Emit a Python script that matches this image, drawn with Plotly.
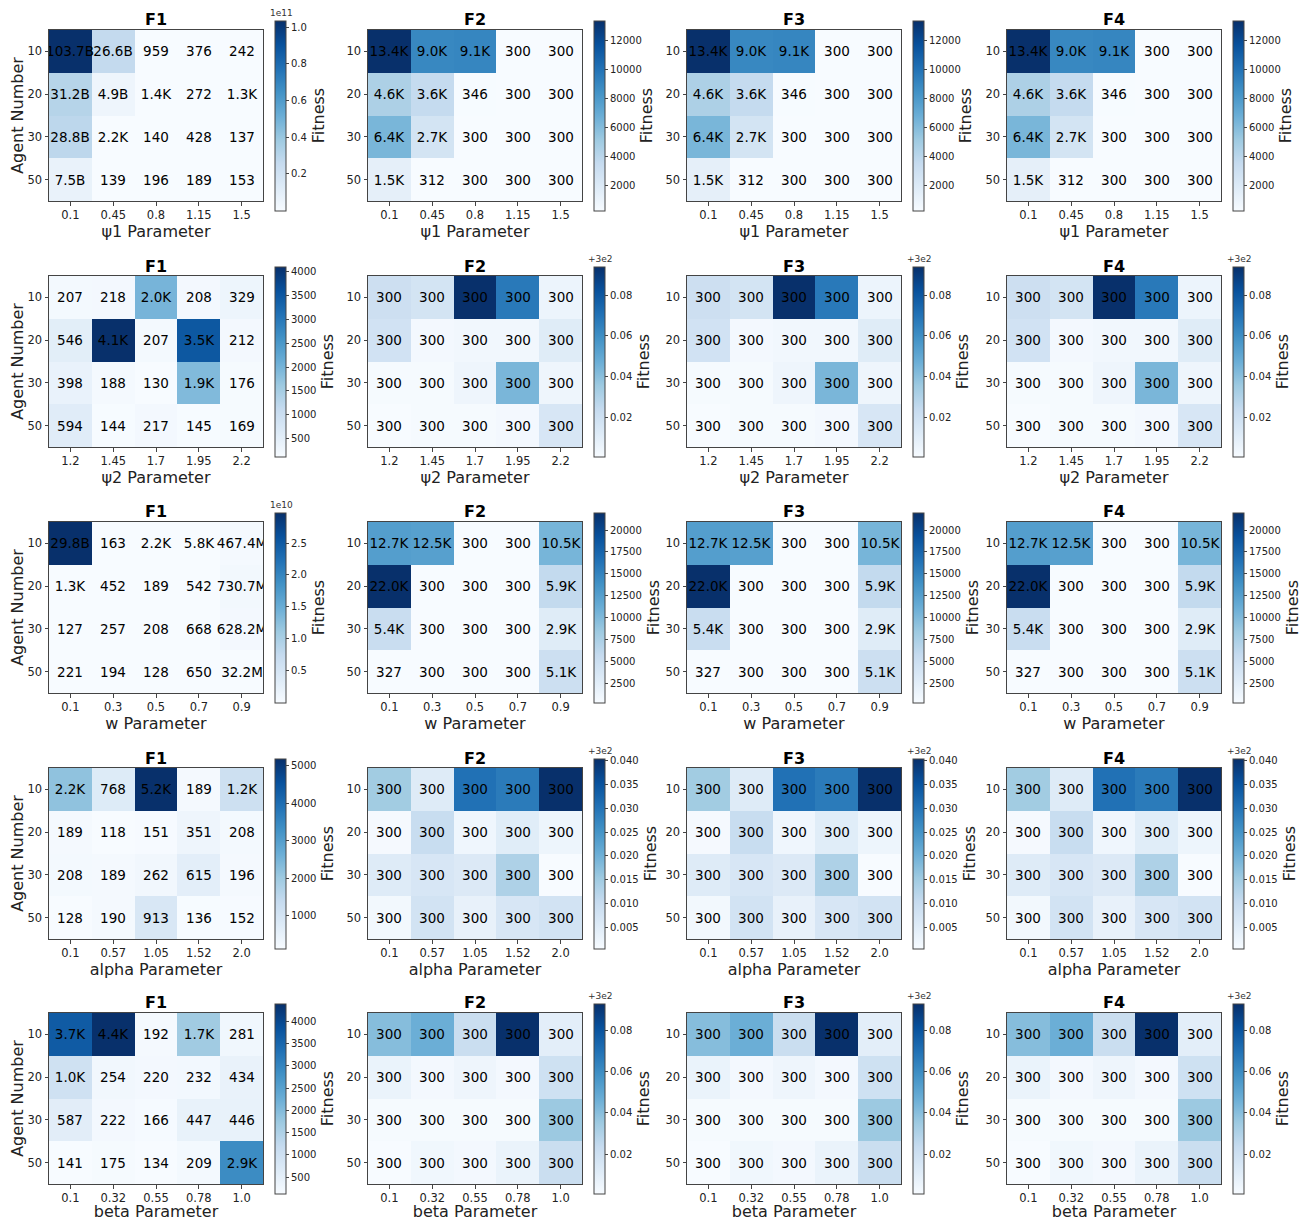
import plotly.graph_objects as go
from plotly.colors import sequential

# The page body has an 8px default margin, so the figure is drawn 8px in from
# the window's top-left corner; all pixel positions below are window pixels.
OFF = 8
W, H = 1309 - OFF, 1221 - OFF

agent_numbers = ["10", "20", "30", "50"]
function_names = ["F1", "F2", "F3", "F4"]
psi1_ticks = ["0.1", "0.45", "0.8", "1.15", "1.5"]
psi2_ticks = ["1.2", "1.45", "1.7", "1.95", "2.2"]
w_ticks = ["0.1", "0.3", "0.5", "0.7", "0.9"]
alpha_ticks = ["0.1", "0.57", "1.05", "1.52", "2.0"]
beta_ticks = ["0.1", "0.32", "0.55", "0.78", "1.0"]
row_labels = ["ψ1 Parameter", "ψ2 Parameter", "w Parameter", "alpha Parameter", "beta Parameter"]

# ---- psi1 row ----
psi1_f1 = [[103.7e9, 26.6e9, 959, 376, 242],
           [31.2e9, 4.9e9, 1400, 272, 1300],
           [28.8e9, 2200, 140, 428, 137],
           [7.5e9, 139, 196, 189, 153]]
psi1_f2 = [[13400, 9000, 9100, 300, 300],
           [4600, 3600, 346, 300, 300],
           [6400, 2700, 300, 300, 300],
           [1500, 312, 300, 300, 300]]
psi1_f3 = psi1_f2
psi1_f4 = psi1_f2

# ---- psi2 row ----
psi2_f1 = [[207, 218, 2000, 208, 329],
           [546, 4100, 207, 3500, 212],
           [398, 188, 130, 1900, 176],
           [594, 144, 217, 145, 169]]
psi2_f2 = [[300.021, 300.018, 300.094, 300.068, 300.006],
           [300.019, 300.003, 300.004, 300.004, 300.012],
           [300.002, 300.002, 300.005, 300.044, 300.005],
           [300.001, 300.002, 300.002, 300.003, 300.016]]
psi2_f3 = psi2_f2
psi2_f4 = psi2_f2

# ---- w row ----
w_f1 = [[29.8e9, 163, 2200, 5800, 467.4e6],
        [1300, 452, 189, 542, 730.7e6],
        [127, 257, 208, 668, 628.2e6],
        [221, 194, 128, 650, 32.2e6]]
w_f2 = [[12700, 12500, 300, 300, 10500],
        [22000, 300, 300, 300, 5900],
        [5400, 300, 300, 300, 2900],
        [327, 300, 300, 300, 5100]]
w_f3 = w_f2
w_f4 = w_f2

# ---- alpha row ----
alpha_f1 = [[2200, 768, 5200, 189, 1200],
            [189, 118, 151, 351, 208],
            [208, 189, 262, 615, 196],
            [128, 190, 913, 136, 152]]
alpha_f2 = [[300.0150, 300.0055, 300.0305, 300.0290, 300.0405],
            [300.0010, 300.0100, 300.0020, 300.0050, 300.0025],
            [300.0055, 300.0070, 300.0060, 300.0135, 300.0005],
            [300.0015, 300.0080, 300.0035, 300.0070, 300.0080]]
alpha_f3 = alpha_f2
alpha_f4 = alpha_f2

# ---- beta row ----
beta_f1 = [[3700, 4400, 192, 1700, 281],
           [1000, 254, 220, 232, 434],
           [587, 222, 166, 447, 446],
           [141, 175, 134, 209, 2900]]
beta_f2 = [[300.041, 300.047, 300.022, 300.093, 300.010],
           [300.007, 300.003, 300.005, 300.003, 300.020],
           [300.002, 300.002, 300.002, 300.002, 300.036],
           [300.001, 300.004, 300.003, 300.007, 300.022]]
beta_f3 = beta_f2
beta_f4 = beta_f2

# ---- colorbar tick labels ----
cb_psi1_f1 = ([2e10, 4e10, 6e10, 8e10, 1e11], ["0.2", "0.4", "0.6", "0.8", "1.0"], "1e11")
cb_psi1_f2 = ([2000, 4000, 6000, 8000, 10000, 12000], ["2000", "4000", "6000", "8000", "10000", "12000"], None)
cb_psi2_f1 = ([500, 1000, 1500, 2000, 2500, 3000, 3500, 4000],
              ["500", "1000", "1500", "2000", "2500", "3000", "3500", "4000"], None)
cb_psi2_f2 = ([300.02, 300.04, 300.06, 300.08], ["0.02", "0.04", "0.06", "0.08"], "+3e2")
cb_w_f1 = ([0.5e10, 1.0e10, 1.5e10, 2.0e10, 2.5e10], ["0.5", "1.0", "1.5", "2.0", "2.5"], "1e10")
cb_w_f2 = ([2500, 5000, 7500, 10000, 12500, 15000, 17500, 20000],
           ["2500", "5000", "7500", "10000", "12500", "15000", "17500", "20000"], None)
cb_alpha_f1 = ([1000, 2000, 3000, 4000, 5000], ["1000", "2000", "3000", "4000", "5000"], None)
cb_alpha_f2 = ([300.005, 300.010, 300.015, 300.020, 300.025, 300.030, 300.035, 300.040],
               ["0.005", "0.010", "0.015", "0.020", "0.025", "0.030", "0.035", "0.040"], "+3e2")
cb_beta_f1 = ([500, 1000, 1500, 2000, 2500, 3000, 3500, 4000],
              ["500", "1000", "1500", "2000", "2500", "3000", "3500", "4000"], None)
cb_beta_f2 = ([300.02, 300.04, 300.06, 300.08], ["0.02", "0.04", "0.06", "0.08"], "+3e2")

rows = [
    (psi1_ticks, [psi1_f1, psi1_f2, psi1_f3, psi1_f4], [cb_psi1_f1, cb_psi1_f2, cb_psi1_f2, cb_psi1_f2]),
    (psi2_ticks, [psi2_f1, psi2_f2, psi2_f3, psi2_f4], [cb_psi2_f1, cb_psi2_f2, cb_psi2_f2, cb_psi2_f2]),
    (w_ticks, [w_f1, w_f2, w_f3, w_f4], [cb_w_f1, cb_w_f2, cb_w_f2, cb_w_f2]),
    (alpha_ticks, [alpha_f1, alpha_f2, alpha_f3, alpha_f4], [cb_alpha_f1, cb_alpha_f2, cb_alpha_f2, cb_alpha_f2]),
    (beta_ticks, [beta_f1, beta_f2, beta_f3, beta_f4], [cb_beta_f1, cb_beta_f2, cb_beta_f2, cb_beta_f2]),
]


def fmt(v):
    if v >= 1e9:
        return f"{v / 1e9:.1f}B"
    if v >= 1e6:
        return f"{v / 1e6:.1f}M"
    if v >= 1e3:
        return f"{v / 1e3:.1f}K"
    return f"{v:.0f}"


# layout geometry (window pixels)
col_left = [49, 368, 687, 1007]
cb_left = [275, 594, 913, 1233]
row_top = [30, 276, 522, 768, 1013]
cell_w, cell_h = 214, 171


def px(x):
    return (x - OFF) / W


def py(y):
    return 1 - (y - OFF) / H


blues = sequential.Blues
FONT = "DejaVu Sans"
AX = "#444"

fig = go.Figure()
layout = {}
annotations = []

for r, (xt, datas, cbs) in enumerate(rows):
    top = row_top[r]
    for c in range(4):
        n = r * 4 + c + 1
        z = datas[c]
        tickvals, ticktext, expo = cbs[c]
        text = [[fmt(v) for v in row] for row in z]
        fig.add_trace(go.Heatmap(
            z=z, x=xt, y=agent_numbers, xaxis=f"x{n}", yaxis=f"y{n}",
            colorscale=blues, text=text, texttemplate="%{text}",
            textfont=dict(size=13.5, color="black", family=FONT),
            colorbar=dict(
                x=px(cb_left[c]), xanchor="left", xpad=0,
                y=py(top + 85.5), yanchor="middle", ypad=0,
                len=190, lenmode="pixels", thickness=11, thicknessmode="pixels",
                outlinewidth=1, outlinecolor=AX,
                ticks="outside", ticklen=3, tickcolor=AX,
                tickvals=tickvals, ticktext=ticktext,
                tickfont=dict(size=10, color="#222", family=FONT),
                title=dict(text="Fitness", side="right", font=dict(size=16, color="#222", family=FONT)),
            ),
        ))
        xd = [px(col_left[c]), px(col_left[c] + cell_w)]
        yd = [py(top + cell_h), py(top)]
        common = dict(type="category", showline=True, mirror=True, linecolor=AX, linewidth=1,
                      ticks="outside", ticklen=3.5, tickcolor=AX, showgrid=False, zeroline=False,
                      tickfont=dict(size=11.5, color="#222", family=FONT))
        layout[f"xaxis{n}"] = dict(domain=xd, anchor=f"y{n}",
                                   title=dict(text=row_labels[r], standoff=3,
                                              font=dict(size=16, color="#222", family=FONT)),
                                   **common)
        ya = dict(domain=yd, anchor=f"x{n}", autorange="reversed", **common)
        if c == 0:
            ya["title"] = dict(text="Agent Number", standoff=7, font=dict(size=16, color="#222", family=FONT))
        layout[f"yaxis{n}"] = ya
        annotations.append(dict(text=f"<b>{function_names[c]}</b>", xref="paper", yref="paper",
                                x=px(col_left[c] + cell_w / 2), y=py(top - 10),
                                xanchor="center", yanchor="middle", showarrow=False,
                                font=dict(size=16, color="black", family=FONT)))
        if expo:
            annotations.append(dict(text=expo, xref="paper", yref="paper",
                                    x=px(cb_left[c] + 6), y=py(top - 10),
                                    xanchor="center", yanchor="bottom", showarrow=False,
                                    font=dict(size=9, color="#333", family=FONT)))

fig.update_layout(
    width=W, height=H, margin=dict(l=0, r=0, t=0, b=0, autoexpand=False),
    paper_bgcolor="white", plot_bgcolor="white",
    font=dict(family=FONT, color="#222"),
    annotations=annotations,
    **layout,
)

fig.write_html("out.html")
